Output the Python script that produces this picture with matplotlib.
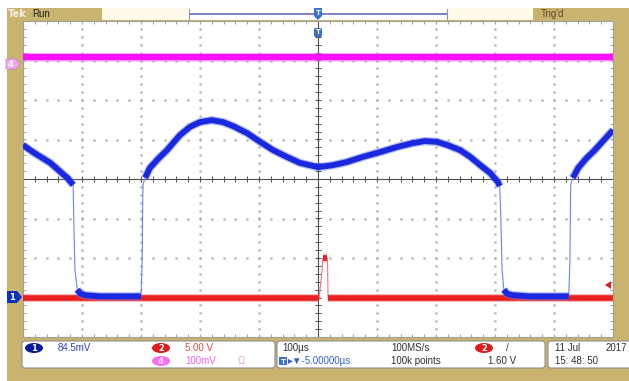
import matplotlib.pyplot as plt
import numpy as np
from matplotlib.patches import Rectangle, FancyBboxPatch, Ellipse, Polygon

W, H = 629, 381

# traces in screen divisions (x: -5..5 div of 100us, y: -4..4 div)
ch1_t = [-5.0, -4.83, -4.54, -4.25, -4.15, -4.14, -4.12, -4.08, -4.03, -3.95,
         -3.69, -3.36, -3.0, -2.98, -2.97, -2.965, -2.93, -2.85, -2.71, -2.56,
         -2.34, -2.17, -2.0, -1.80, -1.61, -1.44, -1.20, -0.98, -0.76, -0.53,
         -0.31, 0.0, 0.25, 0.49, 0.76, 1.05, 1.34, 1.61, 1.81, 2.02,
         2.19, 2.41, 2.58, 2.75, 2.92, 3.05, 3.08, 3.10, 3.12, 3.15,
         3.20, 3.29, 3.59, 3.93, 4.25, 4.27, 4.28, 4.285, 4.32, 4.41,
         4.54, 4.69, 4.83, 5.0]
ch1_v = [0.86, 0.68, 0.41, 0.03, -0.15, -1.04, -2.30, -2.80, -2.90, -2.94,
         -2.97, -2.97, -2.97, -2.05, -0.53, -0.13, 0.03, 0.28, 0.51, 0.73,
         1.11, 1.32, 1.44, 1.49, 1.44, 1.34, 1.16, 0.94, 0.73, 0.56,
         0.41, 0.30, 0.35, 0.43, 0.56, 0.68, 0.81, 0.91, 0.96, 0.94,
         0.86, 0.73, 0.56, 0.35, 0.15, -0.08, -0.18, -1.04, -2.30, -2.80,
         -2.90, -2.94, -2.97, -2.97, -2.97, -2.05, -0.53, -0.13, 0.03, 0.28,
         0.51, 0.73, 0.96, 1.24]

ch2_t = [-5.0, 0.02, 0.07, 0.08, 0.16, 0.17, 5.0]
ch2_v = [-3.0, -3.0, -2.3, -2.0, -2.0, -3.0, -3.0]

ch4_t = [-5.0, 5.0]
ch4_v = [3.1, 3.1]

tan = '#c8b46e'
cream = '#fffbe8'


def trace(ax, t, v, color, glow, lw, z):
    t = np.asarray(t)
    v = np.asarray(v)
    # thin line for the whole trace (the fast edges stay thin on the scope)
    ax.plot(t, v, color=glow, lw=0.8, zorder=z)
    steep = np.abs(np.diff(v)) * 39.5 > 3 * np.abs(np.diff(t)) * 59
    # thick line for every run of slow segments
    i = 0
    n = len(steep)
    while i < n:
        if steep[i]:
            i += 1
            continue
        j = i
        while j < n and not steep[j]:
            j += 1
        xs, ys = t[i:j + 1], v[i:j + 1]
        ax.plot(xs, ys, color=glow, lw=lw + 1.8, alpha=0.5,
                solid_capstyle='butt', solid_joinstyle='round', zorder=z + 0.1)
        ax.plot(xs, ys, color=color, lw=lw, solid_capstyle='butt',
                solid_joinstyle='round', zorder=z + 0.2)
        i = j


fig = plt.figure(figsize=(W / 100, H / 100), dpi=100)
fig.patch.set_facecolor('white')

# background / frame in pixel coordinates
bg = fig.add_axes([0, 0, 1, 1])
bg.set_xlim(0, W)
bg.set_ylim(H, 0)
bg.axis('off')
bg.add_patch(Rectangle((7, 8), W - 7, H - 8, fc=tan, ec='none'))

fam = ['Liberation Sans', 'DejaVu Sans']

# top bar
bg.text(8, 14, 'Tek', color='#f4f0e0', fontsize=7, fontweight='bold', va='center')
bg.text(32, 14, 'Run', color='#202020', fontsize=7, va='center', family=fam)
bg.add_patch(Rectangle((102, 8), 86, 12, fc=cream, ec='none'))
bg.add_patch(Rectangle((188, 8), 260, 12, fc='white', ec='none'))
bg.plot([190, 446], [13.5, 13.5], color='#8080c8', lw=1.4)
bg.plot([189, 189], [9, 19], color='#9090b0', lw=0.8)
bg.plot([447, 447], [9, 19], color='#9090b0', lw=0.8)
bg.add_patch(Rectangle((448, 8), 85, 12, fc=cream, ec='none'))
bg.text(541, 14, "Trig'd", color='#5a4a20', fontsize=7, va='center', family=fam)

# bottom status boxes
for x0, x1 in [(22, 275), (277, 545), (548, 645)]:
    bg.add_patch(FancyBboxPatch((x0, 341), x1 - x0, 27,
                                boxstyle='round,pad=0,rounding_size=3',
                                fc='white', ec='#909090', lw=0.8))

ovals = [(34, 348, '#0a1aa0', '1', 'white'), (161, 348, '#e01a1a', '2', 'white'),
         (161, 361, '#f070f0', '4', '#ffd0ff'), (484, 348, '#e01a1a', '2', 'white')]
for cx, cy, fc, s, tc in ovals:
    bg.add_patch(Ellipse((cx, cy), 18, 10, fc=fc, ec='none'))
    bg.text(cx, cy + 0.5, s, color=tc, fontsize=6, fontweight='bold', ha='center', va='center')

sf = dict(fontsize=7, va='center', family=fam)
bg.text(58, 348, '84.5mV', color='#2a40c0', **sf)
bg.text(185, 348, '5.00 V', color='#e04848', **sf)
bg.text(185, 361, '100mV', color='#f060f0', **sf)
bg.text(238, 361, 'Ω', color='#e0a8e0', **sf)
bg.text(282, 348, '100µs', color='#303030', **sf)
bg.add_patch(Rectangle((279, 357), 8, 8, fc='#3a70d0', ec='none'))
bg.text(283, 361.5, 'T', color='white', fontsize=5, fontweight='bold', ha='center', va='center')
bg.text(288, 361, '▸▼-5.00000µs', color='#3060d0', **sf)
bg.text(391, 348, '100MS/s', color='#303030', **sf)
bg.text(391, 361, '100k points', color='#303030', **sf)
bg.text(506, 348, '/', color='#303030', **sf)
bg.text(488, 361, '1.60 V', color='#303030', **sf)
bg.text(555, 348, '11 Jul', color='#303030', **sf)
bg.text(606, 348, '2017', color='#303030', **sf)
bg.text(555, 361, '15: 48: 50', color='#303030', **sf)

# main graticule
ax = fig.add_axes([23 / W, (H - 337) / H, 590 / W, 316 / H])
ax.set_facecolor('white')
ax.set_xlim(-5, 5)
ax.set_ylim(-4, 4)
ax.set_xticks(np.arange(-5, 5.01, 0.2))
ax.set_yticks(np.arange(-4, 4.01, 0.2))
ax.tick_params(direction='in', top=True, right=True, length=2.5, width=0.6,
               color='#909090', labelbottom=False, labelleft=False)
for sp in ax.spines.values():
    sp.set_color('#a0a0a0')
    sp.set_linewidth(0.8)

minor_x = np.arange(-5, 5.01, 0.2)
minor_y = np.arange(-4, 4.01, 0.2)
for gy in range(-3, 4):
    if gy != 0:
        ax.plot(minor_x, np.full_like(minor_x, gy), ls='none', marker='.', ms=1.6, color='#b0b0b0')
for gx in range(-4, 5):
    if gx != 0:
        ax.plot(np.full_like(minor_y, gx), minor_y, ls='none', marker='.', ms=1.6, color='#b0b0b0')
ax.axhline(0, color='#505050', lw=0.8)
ax.axvline(0, color='#505050', lw=0.8)
ax.vlines(minor_x, -0.07, 0.07, color='#505050', lw=0.7)
ax.hlines(minor_y, -0.05, 0.05, color='#505050', lw=0.7)

trace(ax, ch4_t, ch4_v, '#ff10ff', '#ff80ff', 4.6, 3)
trace(ax, ch2_t, ch2_v, '#e82020', '#f07878', 4.0, 4)
trace(ax, ch1_t, ch1_v, '#1a28e0', '#7080f0', 4.2, 5)

# markers (pixel coordinates, drawn on top)
top = fig.add_axes([0, 0, 1, 1])
top.set_xlim(0, W)
top.set_ylim(H, 0)
top.axis('off')
top.patch.set_alpha(0)
top.add_patch(Polygon([(7, 291), (17, 291), (22, 297), (17, 303), (7, 303)], fc='#1030c0', ec='none'))
top.text(12, 297.5, '1', color='white', fontsize=6, fontweight='bold', ha='center', va='center')
top.add_patch(Polygon([(6, 59), (16, 59), (20, 64), (16, 69), (6, 69)], fc='#f0a8f0', ec='#d070d0', lw=0.5))
top.text(11, 64.5, '4', color='white', fontsize=6, fontweight='bold', ha='center', va='center')
top.add_patch(Polygon([(314, 8), (322, 8), (322, 16), (318, 20), (314, 16)], fc='#3a70d0', ec='none'))
top.text(318, 13, 'T', color='white', fontsize=5, fontweight='bold', ha='center', va='center')
top.add_patch(FancyBboxPatch((314, 28), 8, 9, boxstyle='round,pad=0,rounding_size=1.5', fc='#3a70d0', ec='none'))
top.text(318, 32.5, 'T', color='white', fontsize=5, fontweight='bold', ha='center', va='center')
top.add_patch(Polygon([(605, 285), (611, 281), (611, 289)], fc='#e02020', ec='none'))

fig.savefig('out.png', dpi=100)
